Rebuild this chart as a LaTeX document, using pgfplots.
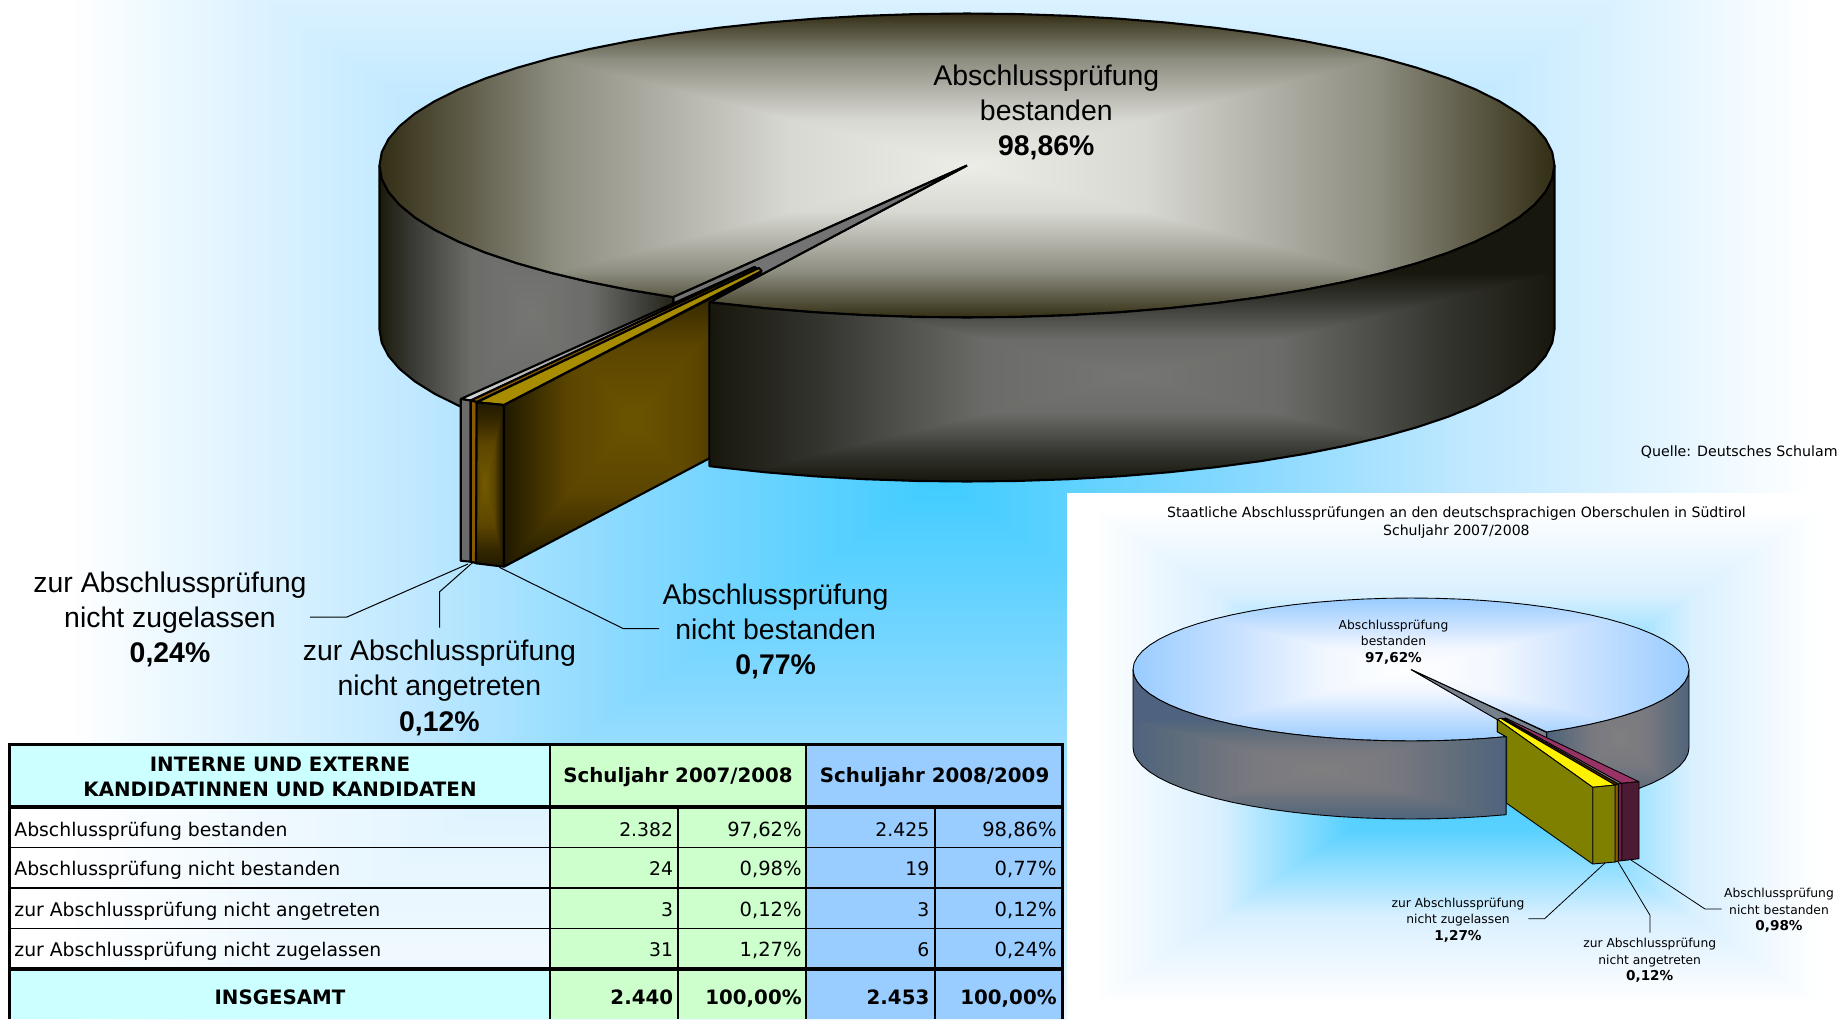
\documentclass[border=0pt]{standalone}
\usepackage{fontspec}
\setmainfont{Liberation Sans}
\newfontfamily\ver{DejaVu Sans}
\usepackage{pgfplots}
\usepackage{pgfplotstable}
\pgfplotsset{compat=1.18}

% box-shaped gradients: t = max(|x-cx|/ax, |y-cy|/ay), four colour stops
% (a path's box fills only the middle 50bp of a shading, hence the 2 mul)
\def\seg#1 #2 #3;#4 #5 #6;{dup #4 #1 sub mul #1 add exch dup #5 #2 sub mul #2 add exch #6 #3 sub mul #3 add}
\newcommand\geo[4]{2 mul #2 sub abs #4 div exch 2 mul #1 sub abs #3 div}
\newcommand\boxshade[8]{\pgfdeclarefunctionalshading{#1}{\pgfpoint{-50bp}{-50bp}}{\pgfpoint{50bp}{50bp}}{}{#2 2 copy lt {exch} if pop dup 1 gt {pop 1} if dup #3 lt {#3 div \seg #5;#6;}{dup #4 lt {#3 sub #4 #3 sub div \seg #6;#7;}{#4 sub 1 #4 sub div \seg #7;#8;} ifelse} ifelse}}

\boxshade{bgbig}{\geo{1.17}{2.9}{47.5}{61}}{0.35}{0.6}{.25 .8 1}{.53 .85 1}{.75 .91 1}{1 1 1}
\boxshade{bginset}{\geo{0.5}{0}{47}{47}}{0.3}{0.65}{.27 .8 1}{.35 .82 1}{.85 .94 1}{1 1 1}
\boxshade{topbig}{\geo{0}{0}{50}{50}}{0.3}{0.7}{.93 .93 .91}{.85 .85 .83}{.55 .55 .5}{.2 .18 .08}
\boxshade{wallleft}{\geo{1.4}{0}{51}{70}}{0.4}{0.8}{.46 .46 .45}{.42 .42 .41}{.22 .22 .2}{.11 .11 .05}
\boxshade{wallright}{\geo{0}{-16.7}{50}{33}}{0.35}{0.75}{.46 .46 .45}{.42 .42 .41}{.2 .2 .18}{.09 .09 .05}
\boxshade{olivewall}{\geo{0}{0}{50}{50}}{0.5}{0.8}{.42 .33 0}{.36 .27 0}{.22 .17 0}{.13 .1 0}
\boxshade{olivefront}{\geo{-20}{0}{70}{50}}{0.5}{0.8}{.45 .35 0}{.36 .27 0}{.2 .15 0}{.13 .1 0}
\boxshade{topinset}{\geo{0}{0}{50}{50}}{0.3}{0.6}{1 1 1}{.95 .97 1}{.8 .89 1}{.6 .8 1}
\boxshade{wallinsl}{\geo{0}{-17}{50}{33}}{0.4}{0.8}{.5 .5 .5}{.47 .47 .5}{.36 .42 .48}{.31 .39 .5}
\boxshade{wallinsr}{\geo{1}{2}{50}{50}}{0.4}{0.8}{.5 .5 .5}{.47 .47 .5}{.36 .42 .48}{.31 .39 .5}

% rim of the big pie, top face: angle 120 round to 116, then the centre
\pgfplotstableread[row sep=\\]{
c s\\
-0.5 0.866\\ -0.5736 0.8192\\ -0.6428 0.766\\ -0.7071 0.7071\\ -0.766 0.6428\\ -0.8192 0.5736\\
-0.866 0.5\\ -0.9063 0.4226\\ -0.9397 0.342\\ -0.9659 0.2588\\ -0.9848 0.1736\\ -0.9962 0.0872\\
-1 0\\ -0.9962 -0.0872\\ -0.9848 -0.1736\\ -0.9659 -0.2588\\ -0.9397 -0.342\\ -0.9063 -0.4226\\
-0.866 -0.5\\ -0.8192 -0.5736\\ -0.766 -0.6428\\ -0.7071 -0.7071\\ -0.6428 -0.766\\ -0.5736 -0.8192\\
-0.5 -0.866\\ -0.4226 -0.9063\\ -0.342 -0.9397\\ -0.2588 -0.9659\\ -0.1736 -0.9848\\ -0.0872 -0.9962\\
0 -1\\ 0.0872 -0.9962\\ 0.1736 -0.9848\\ 0.2588 -0.9659\\ 0.342 -0.9397\\ 0.4226 -0.9063\\
0.5 -0.866\\ 0.5736 -0.8192\\ 0.6428 -0.766\\ 0.7071 -0.7071\\ 0.766 -0.6428\\ 0.8192 -0.5736\\
0.866 -0.5\\ 0.9063 -0.4226\\ 0.9397 -0.342\\ 0.9659 -0.2588\\ 0.9848 -0.1736\\ 0.9962 -0.0872\\
1 0\\ 0.9962 0.0872\\ 0.9848 0.1736\\ 0.9659 0.2588\\ 0.9397 0.342\\ 0.9063 0.4226\\
0.866 0.5\\ 0.8192 0.5736\\ 0.766 0.6428\\ 0.7071 0.7071\\ 0.6428 0.766\\ 0.5736 0.8192\\
0.5 0.866\\ 0.4226 0.9063\\ 0.342 0.9397\\ 0.2588 0.9659\\ 0.1736 0.9848\\ 0.0872 0.9962\\
0 1\\ -0.0872 0.9962\\ -0.1736 0.9848\\ -0.2588 0.9659\\ -0.342 0.9397\\ -0.4226 0.9063\\ -0.4384 0.8988\\
0 0\\
}\bigtop

% big pie, walls (z=0 upper rim, z=1 lower rim)
\pgfplotstableread[row sep=\\]{
c s z\\
-0.5 0.866 0\\ -0.5736 0.8192 0\\ -0.6428 0.766 0\\ -0.7071 0.7071 0\\ -0.766 0.6428 0\\ -0.8192 0.5736 0\\
-0.866 0.5 0\\ -0.9063 0.4226 0\\ -0.9397 0.342 0\\ -0.9659 0.2588 0\\ -0.9848 0.1736 0\\ -0.9962 0.0872 0\\ -1 0 0\\
-1 0 1\\ -0.9962 0.0872 1\\ -0.9848 0.1736 1\\ -0.9659 0.2588 1\\ -0.9397 0.342 1\\ -0.9063 0.4226 1\\ -0.866 0.5 1\\
-0.8192 0.5736 1\\ -0.766 0.6428 1\\ -0.7071 0.7071 1\\ -0.6428 0.766 1\\ -0.5736 0.8192 1\\ -0.5 0.866 1\\
}\bigleft

\pgfplotstableread[row sep=\\]{
c s z\\
1 0 0\\ 0.9962 0.0872 0\\ 0.9848 0.1736 0\\ 0.9659 0.2588 0\\ 0.9397 0.342 0\\ 0.9063 0.4226 0\\
0.866 0.5 0\\ 0.8192 0.5736 0\\ 0.766 0.6428 0\\ 0.7071 0.7071 0\\ 0.6428 0.766 0\\ 0.5736 0.8192 0\\
0.5 0.866 0\\ 0.4226 0.9063 0\\ 0.342 0.9397 0\\ 0.2588 0.9659 0\\ 0.1736 0.9848 0\\ 0.0872 0.9962 0\\
0 1 0\\ -0.0872 0.9962 0\\ -0.1736 0.9848 0\\ -0.2588 0.9659 0\\ -0.342 0.9397 0\\ -0.4226 0.9063 0\\ -0.4384 0.8988 0\\
-0.4384 0.8988 1\\ -0.4226 0.9063 1\\ -0.342 0.9397 1\\ -0.2588 0.9659 1\\ -0.1736 0.9848 1\\ -0.0872 0.9962 1\\ 0 1 1\\
0.0872 0.9962 1\\ 0.1736 0.9848 1\\ 0.2588 0.9659 1\\ 0.342 0.9397 1\\ 0.4226 0.9063 1\\ 0.5 0.866 1\\
0.5736 0.8192 1\\ 0.6428 0.766 1\\ 0.7071 0.7071 1\\ 0.766 0.6428 1\\ 0.8192 0.5736 1\\ 0.866 0.5 1\\
0.9063 0.4226 1\\ 0.9397 0.342 1\\ 0.9659 0.2588 1\\ 0.9848 0.1736 1\\ 0.9962 0.0872 1\\ 1 0 1\\
}\bigright

% small pie, top face: angle 70 round to 60.8, the centre, then round the slices' tip
\pgfplotstableread[row sep=\\]{
c s\\
0.342 0.9397\\ 0.2588 0.9659\\ 0.1736 0.9848\\ 0.0872 0.9962\\ 0 1\\ -0.0872 0.9962\\
-0.1736 0.9848\\ -0.2588 0.9659\\ -0.342 0.9397\\ -0.4226 0.9063\\ -0.5 0.866\\ -0.5736 0.8192\\
-0.6428 0.766\\ -0.7071 0.7071\\ -0.766 0.6428\\ -0.8192 0.5736\\ -0.866 0.5\\ -0.9063 0.4226\\
-0.9397 0.342\\ -0.9659 0.2588\\ -0.9848 0.1736\\ -0.9962 0.0872\\ -1 0\\ -0.9962 -0.0872\\
-0.9848 -0.1736\\ -0.9659 -0.2588\\ -0.9397 -0.342\\ -0.9063 -0.4226\\ -0.866 -0.5\\ -0.8192 -0.5736\\
-0.766 -0.6428\\ -0.7071 -0.7071\\ -0.6428 -0.766\\ -0.5736 -0.8192\\ -0.5 -0.866\\ -0.4226 -0.9063\\
-0.342 -0.9397\\ -0.2588 -0.9659\\ -0.1736 -0.9848\\ -0.0872 -0.9962\\ 0 -1\\ 0.0872 -0.9962\\
0.1736 -0.9848\\ 0.2588 -0.9659\\ 0.342 -0.9397\\ 0.4226 -0.9063\\ 0.5 -0.866\\ 0.5736 -0.8192\\
0.6428 -0.766\\ 0.7071 -0.7071\\ 0.766 -0.6428\\ 0.8192 -0.5736\\ 0.866 -0.5\\ 0.9063 -0.4226\\
0.9397 -0.342\\ 0.9659 -0.2588\\ 0.9848 -0.1736\\ 0.9962 -0.0872\\ 1 0\\ 0.9962 0.0872\\
0.9848 0.1736\\ 0.9659 0.2588\\ 0.9397 0.342\\ 0.9063 0.4226\\ 0.866 0.5\\ 0.8192 0.5736\\
0.766 0.6428\\ 0.7071 0.7071\\ 0.6428 0.766\\ 0.5736 0.8192\\ 0.488 0.8729\\
0 0\\ 0.3104 0.6993\\ 0.3104 0.87\\
}\smalltop

\pgfplotstableread[row sep=\\]{
c s z\\
0.342 0.9397 0\\ 0.2588 0.9659 0\\ 0.1736 0.9848 0\\ 0.0872 0.9962 0\\ 0 1 0\\ -0.0872 0.9962 0\\
-0.1736 0.9848 0\\ -0.2588 0.9659 0\\ -0.342 0.9397 0\\ -0.4226 0.9063 0\\ -0.5 0.866 0\\ -0.5736 0.8192 0\\
-0.6428 0.766 0\\ -0.7071 0.7071 0\\ -0.766 0.6428 0\\ -0.8192 0.5736 0\\ -0.866 0.5 0\\ -0.9063 0.4226 0\\
-0.9397 0.342 0\\ -0.9659 0.2588 0\\ -0.9848 0.1736 0\\ -0.9962 0.0872 0\\ -1 0 0\\
-1 0 1\\ -0.9962 0.0872 1\\ -0.9848 0.1736 1\\ -0.9659 0.2588 1\\ -0.9397 0.342 1\\ -0.9063 0.4226 1\\
-0.866 0.5 1\\ -0.8192 0.5736 1\\ -0.766 0.6428 1\\ -0.7071 0.7071 1\\ -0.6428 0.766 1\\ -0.5736 0.8192 1\\
-0.5 0.866 1\\ -0.4226 0.9063 1\\ -0.342 0.9397 1\\ -0.2588 0.9659 1\\ -0.1736 0.9848 1\\ -0.0872 0.9962 1\\
0 1 1\\ 0.0872 0.9962 1\\ 0.1736 0.9848 1\\ 0.2588 0.9659 1\\ 0.342 0.9397 1\\
}\smallleft

\pgfplotstableread[row sep=\\]{
c s z\\
1 0 0\\ 0.9962 0.0872 0\\ 0.9848 0.1736 0\\ 0.9659 0.2588 0\\ 0.9397 0.342 0\\ 0.9063 0.4226 0\\
0.866 0.5 0\\ 0.8192 0.5736 0\\ 0.766 0.6428 0\\ 0.7071 0.7071 0\\ 0.6428 0.766 0\\ 0.5736 0.8192 0\\ 0.488 0.8729 0\\
0.488 0.8729 1\\ 0.5736 0.8192 1\\ 0.6428 0.766 1\\ 0.7071 0.7071 1\\ 0.766 0.6428 1\\ 0.8192 0.5736 1\\
0.866 0.5 1\\ 0.9063 0.4226 1\\ 0.9397 0.342 1\\ 0.9659 0.2588 1\\ 0.9848 0.1736 1\\ 0.9962 0.0872 1\\ 1 0 1\\
}\smallright

\definecolor{headcyan}{HTML}{CCFFFF}
\definecolor{headgreen}{HTML}{CCFFCC}
\definecolor{headblue}{HTML}{99CCFF}
\definecolor{slicemag}{HTML}{993366}
\definecolor{slicedark}{HTML}{4D1A33}
\definecolor{sliceolive}{HTML}{808000}
\definecolor{sliceorange}{HTML}{8A5A00}
\definecolor{gold}{HTML}{A88C00}
\definecolor{gapgray}{HTML}{76808C}

\newcommand\poly[2]{\addplot[#1] coordinates {#2} -- cycle;}
\newcommand\seglin[2]{\addplot[black,#1] coordinates {#2};}
\newcommand\txt[4][]{\node[inner sep=0pt,anchor=base,#1] at (axis cs:#2,#3) {#4};}
\tikzset{
  edge/.style={draw=black,line width=1.05pt,line join=bevel},
  edgeS/.style={draw=black,line width=0.45pt,line join=bevel},
  pl/.style={font=\fontsize{14.2}{17}\selectfont,yshift=-5.1pt},
  plb/.style={font=\fontsize{14.2}{17}\selectfont\bfseries,yshift=-5.1pt},
  tb/.style={font=\ver\fontsize{9.4}{11}\selectfont,yshift=-3.8pt},
  tbp/.style={font=\ver\fontsize{9.75}{11}\selectfont,yshift=-3.8pt,anchor=base east},
  tbb/.style={font=\ver\fontsize{9.9}{11}\selectfont\bfseries,yshift=-3.8pt},
  ins/.style={font=\ver\fontsize{6.15}{8}\selectfont,yshift=-2.2pt},
  insb/.style={font=\ver\fontsize{6.8}{8}\selectfont\bfseries,yshift=-2.4pt},
}

\begin{document}
\begin{tikzpicture}
\path[use as bounding box] (0,0) rectangle (918.5pt,509.5pt);
\begin{axis}[
    at={(0,0)}, anchor=south west,
    scale only axis,
    width=918.5pt, height=509.5pt,
    xmin=0, xmax=1837, ymin=0, ymax=1019,
    y dir=reverse,
    axis lines=none,
    no markers,
]

% backgrounds
\poly{draw=none,shade,shading=bgbig}{(0,0)(1837,0)(1837,1019)(0,1019)}

% big pie
\addplot[edge,shade,shading=wallleft] table[x expr=967+587.5*\thisrow{c},y expr=165.5+152*\thisrow{s}+164*\thisrow{z}] {\bigleft} -- cycle;
\addplot[edge,shade,shading=topbig] table[x expr=967+587.5*\thisrow{c},y expr=165.5+152*\thisrow{s}] {\bigtop} -- cycle;
\poly{edge,fill=black!55}{(967,165.5)(673.6,297)(673.6,304)(710,302)}
% 0,24 %
\poly{edge,left color=black!15,right color=black!70}{(460.7,399)(470.7,400.5)(755,268)(755,266.7)}
\poly{edge,fill=black!58}{(460.7,399)(470.7,400.5)(470.7,561.7)(460.7,560.7)}
% 0,12 %
\poly{edge,fill=sliceorange}{(470.7,400.5)(476.7,402)(758,269)(755,267.5)}
\poly{edge,fill=sliceorange}{(470.7,400.5)(476.7,402)(476.7,563.3)(470.7,561.7)}
% 0,77 %
\poly{edge,fill=gold}{(476.7,402.3)(504,405)(761.7,271)(759,268)}
\poly{edge,shade,shading=olivefront}{(476.7,402.3)(504,405)(504,566.7)(476,563.3)}
\poly{edge,shade,shading=olivewall}{(504,405)(761.7,272)(710,302)(710,458)(504,566.7)}
\addplot[edge,shade,shading=wallright] table[x expr=967+587.5*\thisrow{c},y expr=165.5+152*\thisrow{s}+164*\thisrow{z}] {\bigright} -- cycle;

% big pie labels
\txt[pl]{1046.3}{75}{Abschlussprüfung}
\txt[pl]{1046.3}{110}{bestanden}
\txt[plb]{1046.3}{145}{98,86\%}
\txt[pl]{170}{582}{zur Abschlussprüfung}
\txt[pl]{170}{617.5}{nicht zugelassen}
\txt[plb]{170}{652.6}{0,24\%}
\txt[pl]{439.4}{650}{zur Abschlussprüfung}
\txt[pl]{439.4}{685.4}{nicht angetreten}
\txt[plb]{439.4}{721.7}{0,12\%}
\txt[pl]{775.6}{594}{Abschlussprüfung}
\txt[pl]{775.6}{629}{nicht bestanden}
\txt[plb]{775.6}{664}{0,77\%}
\seglin{line width=0.5pt}{(310,617)(347,617)(468,564)}
\seglin{line width=0.5pt}{(439.7,627.7)(439.7,591.7)(473.6,561.7)}
\seglin{line width=0.5pt}{(659,628.7)(623.4,628.7)(499.4,567.3)}
\txt[font=\ver\fontsize{7.1}{9}\selectfont,anchor=base west,yshift=-2.6pt]{1640.5}{451}{Quelle: Deutsches Schulam}

% small chart panel
\poly{draw=none,shade,shading=bginset}{(1067,493)(1837,493)(1837,1019)(1067,1019)}
\txt[ins,font=\ver\fontsize{7.04}{8}\selectfont]{1456.4}{513}{Staatliche Abschlussprüfungen an den deutschsprachigen Oberschulen in Südtirol}
\txt[ins,font=\ver\fontsize{7.04}{8}\selectfont]{1456.4}{531}{Schuljahr 2007/2008}

\addplot[edgeS,shade,shading=wallinsr] table[x expr=1411+278*\thisrow{c},y expr=669.5+71.5*\thisrow{s}+78*\thisrow{z}] {\smallright} -- cycle;
\addplot[edgeS,shade,shading=topinset] table[x expr=1411+278*\thisrow{c},y expr=669.5+71.5*\thisrow{s}] {\smalltop} -- cycle;
\poly{edgeS,fill=gapgray}{(1411,669.5)(1546.6,732.5)(1546.6,740)(1498,720)}
% 0,98 %
\poly{edgeS,fill=slicemag}{(1504,718.3)(1621.7,783.3)(1639,781.7)(1505.5,718)}
\poly{edgeS,fill=slicedark}{(1621.7,783.3)(1639,781.7)(1639,858.7)(1621.7,860.7)}
\poly{edgeS,fill=slicemag!70!black}{(1618.3,784)(1621.7,783.3)(1621.7,860.7)(1618.3,861)}
% 0,12 %
\poly{edgeS,fill=sliceorange}{(1615,785)(1618.3,784)(1618.3,861)(1615,862)}
\poly{edgeS,fill=black!70!orange}{(1500.7,718.3)(1615,785)(1618.3,784)(1503,718.2)}
% 1,27 %
\poly{edgeS,fill=yellow}{(1497.3,719.3)(1592.7,787.3)(1615,785)(1500.7,718.3)}
\poly{edgeS,fill=sliceolive}{(1592.7,787.3)(1615,785)(1615,862)(1592.7,864)}
\poly{edgeS,fill=sliceolive}{(1497.3,719.3)(1592.7,787.3)(1592.7,864)(1506.7,803.3)(1506.7,737)(1497.3,731.7)}
\addplot[edgeS,shade,shading=wallinsl] table[x expr=1411+278*\thisrow{c},y expr=669.5+71.5*\thisrow{s}+78*\thisrow{z}] {\smallleft} -- cycle;

\txt[ins]{1393.5}{624.6}{Abschlussprüfung}
\txt[ins]{1393.5}{640.7}{bestanden}
\txt[insb]{1393.5}{657.6}{97,62\%}
\txt[ins]{1458}{902.6}{zur Abschlussprüfung}
\txt[ins]{1458}{919.5}{nicht zugelassen}
\txt[insb]{1458}{936}{1,27\%}
\txt[ins]{1649.7}{943.5}{zur Abschlussprüfung}
\txt[ins]{1649.7}{959.7}{nicht angetreten}
\txt[insb]{1649.7}{976}{0,12\%}
\txt[ins]{1779}{892.8}{Abschlussprüfung}
\txt[ins]{1779}{909.7}{nicht bestanden}
\txt[insb]{1779}{925.9}{0,98\%}
\seglin{line width=0.4pt}{(1528.3,918.7)(1544.6,918.7)(1605,863)}
\seglin{line width=0.4pt}{(1650,932.6)(1650,915.3)(1617.5,860.9)}
\seglin{line width=0.4pt}{(1721.5,909)(1705,909)(1631,860)}

% table cells
\poly{draw=none,fill=headcyan}{(9.6,744.3)(549.6,744.3)(549.6,806.7)(9.6,806.7)}
\poly{draw=none,fill=white,fill opacity=0.6}{(9.6,806.7)(549.6,806.7)(549.6,968.7)(9.6,968.7)}
\poly{draw=none,fill=headcyan}{(9.6,968.7)(549.6,968.7)(549.6,1019)(9.6,1019)}
\poly{draw=none,fill=headgreen}{(549.6,744.3)(806,744.3)(806,1019)(549.6,1019)}
\poly{draw=none,fill=headblue}{(806,744.3)(1062.7,744.3)(1062.7,1019)(806,1019)}

% table rules
\seglin{line width=1.6pt}{(8,744.3)(1064,744.3)}
\seglin{line width=2pt}{(9.6,806.7)(1062.7,806.7)}
\seglin{line width=2pt}{(9.6,968.7)(1062.7,968.7)}
\seglin{line width=0.6pt}{(9.6,847.3)(1062.7,847.3)}
\seglin{line width=0.6pt}{(9.6,888)(1062.7,888)}
\seglin{line width=0.6pt}{(9.6,928.3)(1062.7,928.3)}
\seglin{line width=1.2pt}{(9.6,744.3)(9.6,1019)}
\seglin{line width=0.9pt}{(549.6,744.3)(549.6,1019)}
\seglin{line width=0.9pt}{(806,744.3)(806,1019)}
\seglin{line width=1.6pt}{(1062.7,744.3)(1062.7,1019)}
\seglin{line width=0.9pt}{(678,806.7)(678,1019)}
\seglin{line width=0.9pt}{(934.6,806.7)(934.6,1019)}

% table text
\txt[tbb]{280}{764.3}{INTERNE UND EXTERNE}
\txt[tbb]{280}{789.3}{KANDIDATINNEN UND KANDIDATEN}
\txt[tbb]{678}{775}{Schuljahr 2007/2008}
\txt[tbb]{934.6}{775}{Schuljahr 2008/2009}
\txt[tb,anchor=base west]{14}{828.5}{Abschlussprüfung bestanden}
\txt[tb,anchor=base west]{14}{868.3}{Abschlussprüfung nicht bestanden}
\txt[tb,anchor=base west]{14}{909.3}{zur Abschlussprüfung nicht angetreten}
\txt[tb,anchor=base west]{14}{949.3}{zur Abschlussprüfung nicht zugelassen}
\txt[tbb]{280}{997}{INSGESAMT}
\txt[tb,anchor=base east]{673.5}{828.5}{2.382}
\txt[tbp]{802}{828.5}{97,62\%}
\txt[tb,anchor=base east]{929.7}{828.5}{2.425}
\txt[tbp]{1057}{828.5}{98,86\%}
\txt[tb,anchor=base east]{673.5}{868.3}{24}
\txt[tbp]{802}{868.3}{0,98\%}
\txt[tb,anchor=base east]{929.7}{868.3}{19}
\txt[tbp]{1057}{868.3}{0,77\%}
\txt[tb,anchor=base east]{673.5}{909.3}{3}
\txt[tbp]{802}{909.3}{0,12\%}
\txt[tb,anchor=base east]{929.7}{909.3}{3}
\txt[tbp]{1057}{909.3}{0,12\%}
\txt[tb,anchor=base east]{673.5}{949.3}{31}
\txt[tbp]{802}{949.3}{1,27\%}
\txt[tb,anchor=base east]{929.7}{949.3}{6}
\txt[tbp]{1057}{949.3}{0,24\%}
\txt[tbb,anchor=base east]{673.5}{997}{2.440}
\txt[tbb,anchor=base east]{802}{997}{100,00\%}
\txt[tbb,anchor=base east]{929.7}{997}{2.453}
\txt[tbb,anchor=base east]{1057}{997}{100,00\%}

\end{axis}
\end{tikzpicture}
\end{document}
